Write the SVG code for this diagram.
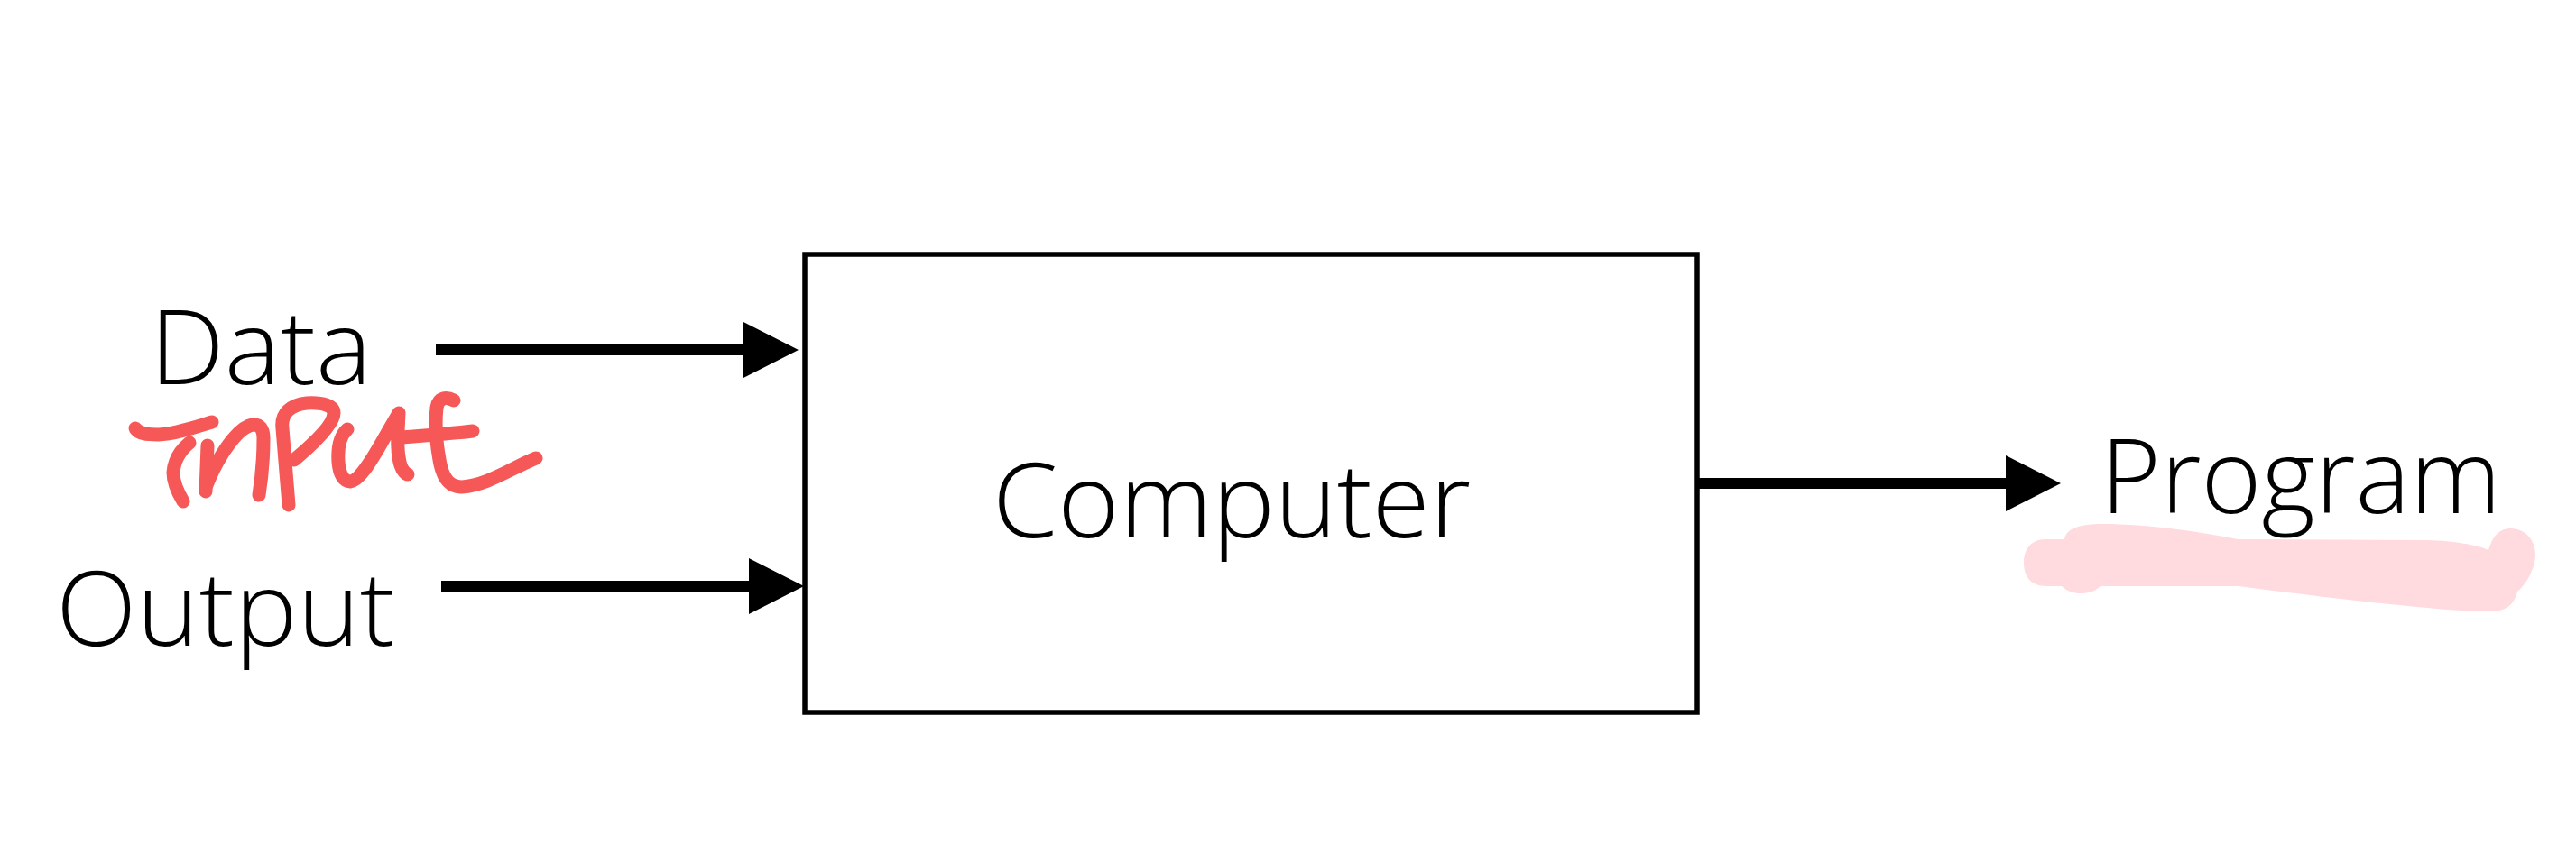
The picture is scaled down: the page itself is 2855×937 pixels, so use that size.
<svg xmlns="http://www.w3.org/2000/svg" width="2855" height="937" viewBox="0 0 2855 937">
<defs>
<style>
.lbl{font-family:"Open Sans","Noto Sans","DejaVu Sans",sans-serif;font-weight:350;font-size:114px;fill:#000}
.conn{stroke:#000;stroke-width:12;fill:none}
.ink{fill:none;stroke:#F65858;stroke-width:15;stroke-linecap:round;stroke-linejoin:round}
</style>
<marker id="head" markerUnits="userSpaceOnUse" markerWidth="62" markerHeight="62" refX="0" refY="31" orient="auto" viewBox="0 0 62 62">
<path d="M0,0 L61,31 L0,62 Z" fill="#000"/>
</marker>
</defs>
<rect width="2855" height="937" fill="#fff"/>

<g id="highlight">
<path fill="#FFDADF" d="M2268,598 L2288,598 C2290,586 2305,581 2330,581 C2380,581 2440,590 2480,598 L2690,599 C2720,600 2745,604 2758,610 C2762,595 2770,586 2782,586 C2800,586 2810,600 2810,615 C2810,630 2800,648 2790,656 C2787,668 2780,678 2760,678 C2700,678 2560,660 2480,650 L2328,650 C2322,656 2314,658 2306,658 C2298,658 2290,655 2285,650 L2268,650 C2250,650 2243,638 2243,624 C2243,610 2250,598 2268,598 Z"/>
</g>

<g id="node-computer">
<rect x="892" y="282" width="989" height="508" fill="#fff" stroke="#000" stroke-width="5.5"/>
<text class="lbl" x="1100" y="596" textLength="530" lengthAdjust="spacingAndGlyphs">Computer</text>
</g>

<g id="node-data">
<text class="lbl" x="166" y="426" textLength="246" lengthAdjust="spacingAndGlyphs">Data</text>
</g>

<g id="node-output">
<text class="lbl" x="62" y="716" textLength="376" lengthAdjust="spacingAndGlyphs">Output</text>
</g>

<g id="node-program">
<text class="lbl" x="2328" y="569" textLength="444" lengthAdjust="spacingAndGlyphs">Program</text>
</g>

<g id="connectors">
<line class="conn" x1="483" y1="388" x2="824" y2="388" marker-end="url(#head)"/>
<line class="conn" x1="489" y1="650" x2="830" y2="650" marker-end="url(#head)"/>
<line class="conn" x1="1881" y1="536" x2="2223" y2="536" marker-end="url(#head)"/>
</g>

<g id="annotation-input">
<path class="ink" d="M150,475 C154,481 162,482 175,482 C195,481 215,474 235,468"/>
<path class="ink" d="M210,491 C199,500 193,510 192,524 C192,535 197,546 203,556"/>
<path class="ink" d="M230,494 L228,545"/>
<path class="ink" d="M229,538 C240,510 262,474 280,471 C288,470 292,476 292,486 C292,505 290,530 287,549"/>
<path class="ink" d="M320,560 L313,475 C311,458 322,449 340,447 C358,446 370,450 370,458 C370,470 350,490 326,510"/>
<path class="ink" d="M385,476 C376,484 374,496 375,512 C376,526 381,534 388,534 C398,533 410,513 420,496 C428,482 436,468 442,458 C441,480 439,500 444,516 C446,522 450,526 452,526"/>
<path class="ink" d="M447,485 C470,483 500,481 524,478"/>
<path class="ink" d="M503,444 C495,440 486,440 484,452 C482,470 484,495 488,515 C492,533 500,540 512,540 C540,538 565,520 594,508"/>
</g>
</svg>
